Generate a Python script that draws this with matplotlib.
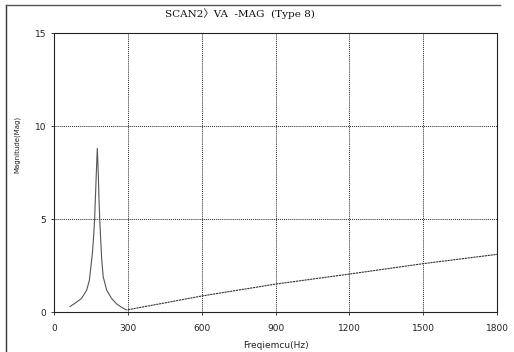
import numpy as np
import matplotlib
matplotlib.use('Agg')
import matplotlib.pyplot as plt
from matplotlib.lines import Line2D

# resonantiepiek
freq_peak = [65, 85, 112, 133, 144, 150, 156, 161, 165, 169, 172, 176,
             180, 183, 186, 190, 194, 200, 214, 234, 255, 275, 295]
mag_peak = [0.29, 0.47, 0.73, 1.18, 1.72, 2.44, 3.15, 4.05, 4.95, 6.38, 7.46, 8.8,
            7.46, 6.02, 4.95, 3.87, 2.8, 1.9, 1.18, 0.73, 0.43, 0.25, 0.11]

# rechte lijn boven 300 Hz
freq_line = [300, 600, 900, 1200, 1500, 1800]
mag_line = [0.12, 0.86, 1.5, 2.04, 2.6, 3.1]

xticks = [0, 300, 600, 900, 1200, 1500, 1800]
yticks = [0, 5, 10, 15]

fig = plt.figure(figsize=(5.14, 3.52), dpi=100)
ax = fig.add_axes([0.105, 0.1136, 0.862, 0.7926])

ax.plot(freq_peak, mag_peak, color='#555555', lw=0.8)
ax.plot(freq_line, mag_line, color='#333333', lw=0.8, ls=(0, (2, 0.6)))

ax.set_xlim(0, 1800)
ax.set_ylim(0, 15)
ax.set_xticks(xticks)
ax.set_yticks(yticks)
ax.tick_params(labelsize=6.5, length=2.5, width=0.6, colors='#222222', pad=3)
ax.tick_params(axis='x', pad=6)

# grid en assen gestippeld
ax.grid(True, color='#222222', ls=(0, (1, 1)), lw=0.7)
for sp in ax.spines.values():
    sp.set_linestyle((0, (1, 1)))
    sp.set_linewidth(0.8)
    sp.set_color('#222222')

ax.set_xlabel('Freqiemcu(Hz)', fontsize=6.5, labelpad=6, color='#222222')
ax.set_ylabel('Magnitude(Mag)', fontsize=5, labelpad=14, color='#222222')
ax.yaxis.set_label_coords(-0.075, 0.6)

fig.text(240 / 514, 1 - 14 / 352, 'SCAN2\u3009VA  -MAG  (Type 8)', ha='center', va='center',
         fontsize=7.5, family=['DejaVu Serif', 'Noto Sans CJK JP'], color='#111111')

# rand van de scan
fig.add_artist(Line2D([6 / 514, 6 / 514], [0, 1 - 5 / 352], transform=fig.transFigure, color='#333333', lw=1.0))
fig.add_artist(Line2D([6 / 514, 500 / 514], [1 - 5 / 352, 1 - 5 / 352], transform=fig.transFigure, color='#555555', lw=1.0))

plt.savefig('out.png', dpi=100)
